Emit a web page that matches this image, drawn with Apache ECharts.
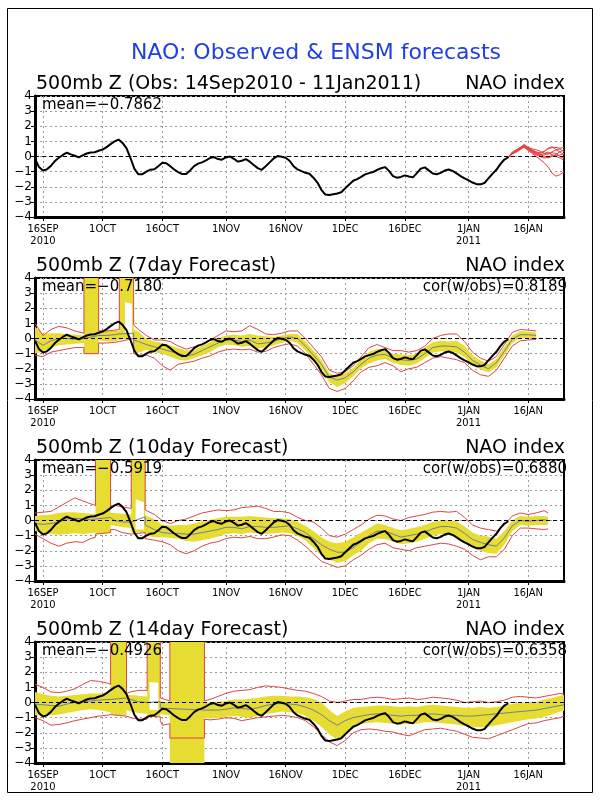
<!DOCTYPE html>
<html>
<head>
<meta charset="utf-8">
<script src="https://cdn.jsdelivr.net/npm/echarts@6/dist/echarts.min.js"></script>
<style>
html, body { margin: 0; padding: 0; background: #fff; }
#main { width: 600px; height: 800px; }
</style>
</head>
<body>
<div id="main"></div>
<script>
// x axis: day index from 14 Sep 2010 (0) to 25 Jan 2011 (133)
const tickDays = [2, 17, 32, 48, 63, 78, 93, 109, 124];
const tickLabels = ['16SEP\n2010', '1OCT', '16OCT', '1NOV', '16NOV', '1DEC', '16DEC', '1JAN\n2011', '16JAN'];

// observed NAO index, one value per day from 14 Sep
const obs = [
  -0.15, -0.7, -0.92, -0.85, -0.62, -0.3, -0.08, 0.1, 0.25, 0.14,
  0.05, -0.06, 0.08, 0.2, 0.26, 0.28, 0.38, 0.46, 0.62, 0.82,
  1.0, 1.12, 0.9, 0.55, -0.1, -0.82, -1.18, -1.17, -1.0, -0.87,
  -0.84, -0.64, -0.42, -0.45, -0.64, -0.86, -1.03, -1.16, -1.15, -0.92,
  -0.64, -0.47, -0.39, -0.26, -0.1, -0.04, -0.17, -0.21, -0.06, 0.0,
  -0.15, -0.34, -0.28, -0.17, -0.34, -0.56, -0.77, -0.88, -0.64, -0.39,
  -0.13, 0.03, -0.02, -0.08, -0.28, -0.64, -0.85, -0.97, -1.08, -1.14,
  -1.4, -1.72, -2.2, -2.52, -2.55, -2.5, -2.45, -2.36, -2.1, -1.85,
  -1.6, -1.5, -1.35, -1.18, -1.1, -1.03, -0.88, -0.78, -0.7, -0.95,
  -1.3, -1.4, -1.35, -1.25, -1.32, -1.38, -1.1, -0.8, -0.72, -0.92,
  -1.12, -1.17, -1.08, -0.93, -0.86, -0.95, -1.12, -1.3, -1.45, -1.57,
  -1.72, -1.83, -1.84, -1.75, -1.45, -1.15, -0.88, -0.5, -0.2, -0.05
];

// ensemble members from 11 Jan (day 119), daily
const memberStart = 119;
const m1 = [-0.05, 0.2, 0.4, 0.6, 0.7, 0.5, 0.35, 0.3, 0.25, 0.35, 0.5, 0.6, 0.6, 0.55, 0.6];
const m2 = [-0.05, 0.25, 0.35, 0.55, 0.75, 0.55, 0.4, 0.2, 0.1, 0.2, 0.3, 0.1, 0.05, 0.1, 0.2];
const m3 = [-0.05, 0.15, 0.3, 0.45, 0.65, 0.45, 0.2, 0.0, -0.2, -0.4, -0.7, -1.1, -1.3, -1.2, -1.0];
const m4 = [-0.05, 0.2, 0.35, 0.5, 0.7, 0.6, 0.45, 0.3, 0.15, 0.0, -0.1, 0.0, 0.15, 0.3, 0.45];
const m5 = [-0.05, 0.3, 0.45, 0.6, 0.8, 0.6, 0.5, 0.45, 0.35, 0.2, 0.15, 0.25, 0.2, 0.0, -0.1];
const m6 = [-0.05, 0.2, 0.4, 0.5, 0.65, 0.45, 0.3, 0.15, 0.05, 0.1, 0.2, 0.3, 0.45, 0.5, 0.3];
const m7 = [-0.05, 0.25, 0.3, 0.5, 0.7, 0.55, 0.35, 0.25, 0.2, 0.3, 0.55, 0.65, 0.45, 0.3, 0.1];
const m8 = [-0.05, 0.2, 0.35, 0.55, 0.6, 0.4, 0.25, 0.1, 0.0, -0.1, -0.05, 0.1, 0.0, -0.1, -0.25];

// 7day forecast (99 = missing, drawn off the top)
const days7 = [0, 2, 4, 6, 8, 10, 12.3, 12.3, 16, 16, 18, 20, 21.2, 21.2, 24.8, 24.8,
  26, 28, 30, 32, 34, 36, 38, 40, 42, 44, 46, 48, 50, 52, 54, 56, 58, 60, 62, 64, 66, 68, 70, 72, 74,
  76, 78, 80, 82, 84, 86, 88, 90, 92, 94, 96, 98, 100, 102, 104, 106, 108, 110, 112, 114, 116, 118,
  120, 122, 124, 126];
const redHi7 = [1.0, 0.2, 0.6, 0.8, 0.7, 0.5, 0.35, 99, 99, 0.5, 0.5, 0.55, 0.6, 99, 99, 0.9,
  0.6, 0.2, -0.1, -0.1, -0.2, -0.5, -0.7, -0.55, -0.4, -0.1, 0.2, 0.5, 0.45, 0.5, 0.85, 0.6, 0.3, 0.25,
  0.35, 0.5, 0.5, 0.0, -0.6, -1.2, -2.1, -2.3, -2.2, -1.8, -1.2, -0.6, -0.4, -0.6, -0.8, -0.8, -0.9,
  -0.8, -0.5, 0.0, 0.2, 0.3, 0.3, -0.2, -0.9, -1.3, -1.5, -1.2, -0.4, 0.4, 0.6, 0.55, 0.5];
const yelHi7 = [0.8, 0.3, 0.35, 0.35, 0.3, 0.25, 0.2, 99, 99, 0.5, 0.55, 0.55, 0.5, 99, 99, 0.6,
  0.45, 0.0, -0.2, -0.3, -0.45, -0.65, -0.8, -0.75, -0.5, -0.25, 0.0, 0.2, 0.25, 0.2, 0.3, 0.2, 0.15, 0.1,
  0.2, 0.3, 0.3, -0.2, -0.8, -1.4, -2.3, -2.5, -2.3, -1.95, -1.35, -0.9, -0.7, -0.75, -1.0, -1.05, -1.1,
  -1.0, -0.6, -0.25, -0.15, -0.2, -0.15, -0.5, -1.1, -1.45, -1.7, -1.35, -0.55, 0.2, 0.5, 0.45, 0.4];
const mean7 = [-0.1, -0.45, -0.15, 0.0, 0.0, -0.05, 0.0, 0.1, 0.2, 0.2, 0.2, 0.25, 0.3, 0.3, 0.35, -0.1,
  -0.2, -0.4, -0.55, -0.7, -0.85, -1.0, -1.15, -1.05, -0.8, -0.55, -0.3, -0.1, -0.1, -0.2, -0.1, -0.35,
  -0.3, -0.2, 0.0, 0.1, 0.0, -0.5, -1.1, -1.7, -2.55, -2.75, -2.6, -2.2, -1.7, -1.3, -1.1, -1.05, -1.3,
  -1.4, -1.45, -1.35, -1.0, -0.6, -0.5, -0.5, -0.55, -0.9, -1.45, -1.75, -2.0, -1.6, -0.85, -0.05, 0.25,
  0.25, 0.2];
const yelLo7 = [-1.0, -0.85, -0.6, -0.45, -0.4, -0.35, -0.3, -1.0, -1.0, -0.1, -0.2, -0.2, -0.05, -0.1, 0.1, -0.9,
  -0.95, -0.75, -0.9, -1.0, -1.2, -1.4, -1.45, -1.3, -1.1, -0.9, -0.6, -0.4, -0.45, -0.55, -0.5, -0.65,
  -0.6, -0.45, -0.3, -0.15, -0.3, -0.8, -1.4, -2.0, -2.9, -3.2, -2.95, -2.5, -1.95, -1.65, -1.45, -1.35,
  -1.6, -1.75, -1.8, -1.65, -1.3, -0.95, -0.85, -0.85, -0.95, -1.2, -1.75, -2.05, -2.25, -1.9, -1.1,
  -0.3, 0.0, 0.05, 0.0];
const redLo7 = [-1.1, -1.2, -0.9, -0.8, -0.7, -0.6, -0.6, -1.0, -1.0, -0.3, -0.3, -0.25, -0.2, -0.2, 0.0, -1.0,
  -1.1, -1.1, -1.3, -1.8, -2.1, -1.7, -1.6, -1.5, -1.3, -1.15, -0.9, -0.75, -0.7, -0.75, -0.7, -0.9,
  -0.85, -0.6, -0.45, -0.35, -0.5, -1.0, -1.7, -2.4, -3.3, -3.5, -3.3, -2.8, -2.2, -1.9, -1.8, -1.6,
  -1.8, -2.2, -2.0, -1.9, -1.6, -1.3, -1.2, -1.3, -1.4, -1.6, -2.1, -2.4, -2.5, -2.1, -1.3, -0.5,
  -0.15, -0.1, -0.05];
const holeDays7 = [22.6, 24.4];
const holeHi7 = [2.4, 2.3];
const holeLo7 = [0.4, 0.05];

// 10day forecast
const days10 = [0, 2, 4, 6, 8, 10, 12, 14, 15.2, 15.2, 19, 19, 20, 22, 24.2, 24.2, 27.7, 27.7,
  28, 30, 32, 34, 36, 38, 40, 42, 44, 46, 48, 50, 52, 54, 56, 58, 60, 62, 64, 66, 68, 70, 72, 74, 76,
  78, 80, 82, 84, 86, 88, 90, 92, 94, 96, 98, 100, 102, 104, 106, 108, 110, 112, 114, 116, 118, 120,
  122, 124, 126, 128, 129];
const redHi10 = [0.5, 0.55, 0.6, 0.9, 1.2, 1.5, 1.3, 1.1, 1.0, 99, 99, 0.9, 1.0, 0.9, 0.8, 99, 99, 0.7,
  0.6, 0.4, 0.0, -0.2, 0.0, 0.1, 0.3, 0.5, 0.6, 0.7, 0.65, 0.7, 0.85, 0.9, 0.95, 0.8, 0.6, 0.6, 0.5, 0.2,
  0.0, -0.1, -0.5, -1.0, -1.1, -0.9, -0.6, -0.3, 0.1, 0.35, 0.3, 0.1, 0.0, 0.2, 0.3, 0.4, 0.55, 0.6,
  0.55, 0.6, 0.2, -0.3, -0.5, -0.6, -0.7, -0.3, 0.3, 0.5, 0.4, 0.5, 0.65, 0.5];
const yelHi10 = [0.3, 0.35, 0.4, 0.5, 0.55, 0.55, 0.5, 0.45, 0.45, 99, 99, 0.5, 0.5, 0.45, 0.4, 99, 99, 0.4,
  0.3, 0.1, -0.3, -0.35, -0.3, -0.3, -0.2, -0.05, 0.05, 0.15, 0.25, 0.25, 0.25, 0.3, 0.25, 0.2, 0.15,
  0.15, 0.1, -0.1, -0.35, -0.7, -1.1, -1.4, -1.5, -1.4, -1.1, -0.8, -0.5, -0.2, -0.3, -0.5, -0.65,
  -0.55, -0.45, -0.3, -0.1, 0.0, 0.0, -0.05, -0.4, -0.8, -1.0, -1.05, -1.2, -0.7, 0.0, 0.3, 0.25, 0.3,
  0.3, 0.25];
const mean10 = [-0.2, -0.25, -0.2, -0.1, 0.1, 0.15, 0.1, 0.05, 0.1, 0.15, 0.2, 0.15, 0.0, -0.1, -0.1, 0.0, 0.25, -0.3,
  -0.4, -0.6, -0.8, -0.85, -0.85, -0.9, -0.9, -0.8, -0.7, -0.6, -0.45, -0.45, -0.55, -0.4, -0.4, -0.45,
  -0.45, -0.4, -0.35, -0.55, -0.8, -1.2, -1.6, -1.9, -2.1, -2.1, -1.8, -1.4, -1.0, -0.7, -0.7, -0.9,
  -1.1, -1.0, -0.9, -0.75, -0.55, -0.4, -0.4, -0.5, -0.85, -1.25, -1.45, -1.6, -1.7, -1.15, -0.35, 0.0,
  -0.05, 0.0, 0.05, 0.0];
const yelLo10 = [-0.7, -0.85, -0.9, -0.95, -0.9, -0.85, -0.9, -0.85, -0.8, -0.9, -0.8, -0.3, -0.35, -0.45, -0.5, -0.8, -0.8, -0.9,
  -1.0, -1.1, -1.1, -1.15, -1.2, -1.35, -1.4, -1.3, -1.2, -1.05, -0.9, -0.85, -0.9, -0.8, -0.85, -0.9,
  -0.85, -0.8, -0.85, -1.0, -1.3, -1.8, -2.3, -2.6, -2.8, -2.7, -2.3, -2.0, -1.5, -1.2, -1.2, -1.4,
  -1.55, -1.5, -1.4, -1.2, -1.0, -0.9, -0.95, -1.1, -1.4, -1.8, -2.0, -2.15, -2.2, -1.6, -0.7, -0.3,
  -0.35, -0.3, -0.3, -0.3];
const redLo10 = [-0.9, -1.2, -1.5, -1.7, -1.5, -1.4, -1.45, -1.2, -1.1, -0.9, -0.8, -0.6, -0.6, -0.8, -0.9, -0.8, -0.8, -1.2,
  -1.25, -1.3, -1.4, -1.6, -2.0, -2.2, -2.0, -1.7, -1.5, -1.4, -1.2, -1.1, -1.15, -1.05, -1.2, -1.2,
  -1.1, -0.95, -1.0, -1.3, -1.7, -2.2, -2.7, -2.9, -3.1, -3.0, -2.6, -2.3, -1.9, -1.6, -1.5, -1.8,
  -1.9, -2.0, -1.8, -1.7, -1.6, -1.5, -1.55, -1.7, -1.9, -2.3, -2.6, -2.4, -2.4, -1.9, -1.0, -0.5,
  -0.5, -0.55, -0.6, -0.55];
const holeDays10 = [25.3, 27.4];
const holeHi10 = [1.4, 1.2];
const holeLo10 = [-0.6, -0.6];

// 14day forecast (-99 = missing, drawn off the bottom)
const days14 = [0, 2, 4, 6, 8, 10, 12, 14, 16, 18, 19, 19, 23, 23, 24, 26, 28.2, 28.2, 31.5, 31.5, 32,
  33.9, 33.9, 42.6, 42.6, 44, 46, 48, 50, 52, 54, 56, 58, 60, 62, 64, 66, 68, 70, 72, 74, 76, 78, 80,
  82, 84, 86, 88, 90, 92, 94, 96, 98, 100, 102, 104, 106, 108, 110, 112, 114, 116, 118, 120, 122, 124,
  126, 128, 130, 132, 133];
const redHi14 = [1.2, 1.0, 0.7, 0.65, 0.75, 0.9, 1.2, 1.45, 1.4, 1.3, 1.2, 99, 99, 0.6, 0.7, 0.8, 0.8, 99, 99,
  0.3, 0.2, 0.1, 99, 99, 0.1,
  0.2, 0.4, 0.6, 0.75, 0.8, 0.85, 1.0, 1.1, 1.05, 1.0, 0.9, 0.8, 0.75, 0.6, 0.4, 0.1, 0.0, 0.1, 0.2, 0.2,
  0.3, 0.35, 0.3, 0.2, 0.25, 0.3, 0.2, 0.25, 0.35, 0.3, 0.25, 0.15, 0.0, 0.05, 0.1, 0.0, 0.05, 0.15,
  0.35, 0.4, 0.35, 0.3, 0.4, 0.5, 0.6, 0.55];
const yelHi14 = [0.7, 0.55, 0.45, 0.4, 0.45, 0.5, 0.55, 0.6, 0.6, 0.65, 0.65, 99, 99, 0.5, 0.5, 0.45, 0.4, 99, 99,
  0.1, 0.05, 0.0, 99, 99, 0.0,
  0.0, 0.05, 0.1, 0.2, 0.2, 0.25, 0.3, 0.4, 0.45, 0.45, 0.4, 0.4, 0.35, 0.25, 0.0, -0.5, -0.9, -0.6,
  -0.35, -0.3, -0.25, -0.2, -0.2, -0.25, -0.3, -0.25, -0.3, -0.2, -0.15, -0.2, -0.25, -0.3, -0.35,
  -0.35, -0.3, -0.35, -0.3, -0.2, -0.1, 0.0, 0.0, 0.05, 0.2, 0.3, 0.45, 0.5];
const mean14 = [-0.1, -0.15, -0.2, -0.25, -0.1, 0.0, 0.05, 0.1, 0.15, 0.2, 0.2, 0.25, 0.3, 0.35, 0.2, 0.05, 0.0, 0.0, 0.05,
  -0.35, -0.4, -0.4, -0.45, -0.5, -0.5,
  -0.5, -0.5, -0.45, -0.35, -0.4, -0.45, -0.35, -0.2, -0.1, -0.05, -0.1, -0.15, -0.3, -0.5, -0.8, -1.2,
  -1.5, -1.2, -1.0, -0.9, -0.8, -0.75, -0.8, -0.85, -0.9, -0.85, -0.85, -0.8, -0.75, -0.8, -0.85, -0.85,
  -0.9, -0.9, -0.85, -0.8, -0.75, -0.7, -0.65, -0.6, -0.55, -0.5, -0.4, -0.3, -0.2, -0.15];
const yelLo14 = [-0.85, -0.9, -0.85, -0.8, -0.7, -0.6, -0.5, -0.45, -0.5, -0.6, -0.65, -0.8, -0.85, -0.5, -0.6, -0.7, -0.75, -0.9, -0.9,
  -0.75, -0.8, -0.85, -99, -99, -1.0,
  -1.05, -1.0, -0.95, -0.9, -0.95, -1.0, -0.9, -0.75, -0.7, -0.6, -0.65, -0.7, -0.9, -1.2, -1.6, -2.1,
  -2.5, -2.1, -1.6, -1.4, -1.35, -1.3, -1.35, -1.4, -1.45, -1.4, -1.4, -1.3, -1.3, -1.35, -1.4, -1.45,
  -1.55, -1.6, -1.65, -1.6, -1.5, -1.4, -1.3, -1.2, -1.1, -1.05, -0.95, -0.8, -0.6, -0.55];
const redLo14 = [-1.0, -1.2, -1.5, -1.45, -1.35, -1.2, -1.1, -1.0, -0.9, -0.85, -0.8, -0.85, -0.9, -0.9, -1.0, -1.1, -1.1, -0.9, -0.95,
  -1.2, -1.5, -1.4, -2.35, -2.35, -1.1,
  -1.15, -1.1, -1.0, -1.05, -1.2, -1.1, -1.0, -0.95, -0.9, -0.85, -0.9, -1.0, -1.2, -1.6, -2.1, -2.6,
  -2.85, -2.5, -2.0, -1.8, -1.75, -1.8, -1.9, -1.95, -2.1, -2.2, -2.0, -1.8, -1.75, -1.7, -1.8, -1.9,
  -2.1, -2.3, -2.35, -2.4, -2.2, -2.0, -1.8, -1.6, -1.4, -1.35, -1.2, -1.1, -1.0, -0.9];
const holeDays14 = [28.8, 31.0];
const holeHi14 = [1.35, 1.3];
const holeLo14 = [-0.5, -0.5];

const panelTitles = ['500mb Z (Obs: 14Sep2010 - 11Jan2011)', '500mb Z (7day Forecast)',
  '500mb Z (10day Forecast)', '500mb Z (14day Forecast)'];
const meanTexts = ['mean=\u22120.7862', 'mean=\u22120.7180', 'mean=\u22120.5919', 'mean=\u22120.4926'];
const corTexts = ['', 'cor(w/obs)=0.8189', 'cor(w/obs)=0.6880', 'cor(w/obs)=0.6358'];

// ---- layout ----
const tops = [96, 278, 460, 642];
const H = 121;
const FONT = '"DejaVu Sans", sans-serif';
const YELLOW = '#e6dc32';
const RED = '#dc4646';
const GREYBLUE = '#6f7f96';

const chart = echarts.init(document.getElementById('main'));

const dayCats = Array.from({ length: 134 }, (_, d) => {
  const k = tickDays.indexOf(d);
  return k >= 0 ? tickLabels[k] : '';
});
const isTick = (idx) => tickDays.includes(idx);

const zip = (xs, ys) => xs.map((x, k) => [x, ys[k]]);

// filled band between lo and hi, one polygon clipped to the grid
function band(i, xs, lo, hi, color) {
  return {
    type: 'custom', xAxisIndex: 2 * i, yAxisIndex: i, silent: true, z: 1,
    data: [[xs[0], lo[0]]],
    renderItem: (params, api) => {
      const top = xs.map((x, k) => api.coord([x, hi[k]]));
      const bot = xs.map((x, k) => api.coord([x, lo[k]])).reverse();
      const cs = params.coordSys;
      return {
        type: 'polygon',
        shape: { points: top.concat(bot) },
        style: { fill: color, stroke: null },
        clipPath: { type: 'rect', shape: { x: cs.x, y: cs.y, width: cs.width, height: cs.height } }
      };
    }
  };
}

function line(i, data, color, width, z) {
  return {
    type: 'line', xAxisIndex: 2 * i, yAxisIndex: i, data: data, symbol: 'none', silent: true,
    lineStyle: { color: color, width: width }, z: z || 2
  };
}

function obsLine(i) {
  const s = line(i, obs.map((v, d) => [d, v]), '#000', 2, 5);
  s.markLine = {
    silent: true, symbol: 'none', label: { show: false },
    lineStyle: { color: '#000', type: [4, 3], width: 1 },
    data: [{ yAxis: 0 }]
  };
  return s;
}

const grids = [], xAxes = [], yAxes = [];
tops.forEach((t, i) => {
  grids.push({ left: 35, top: t, width: 529, height: H, show: true, borderColor: '#000', borderWidth: 2 });
  xAxes.push({ type: 'value', gridIndex: i, min: 0, max: 133, show: false, position: 'bottom' });
  xAxes.push({
    type: 'category', gridIndex: i, data: dayCats, boundaryGap: false, position: 'bottom',
    axisLine: { lineStyle: { color: '#000', width: 3 } },
    axisTick: { interval: isTick, length: 4, lineStyle: { color: '#000' } },
    axisLabel: {
      interval: isTick, color: '#000', fontSize: 11, lineHeight: 12, margin: 6,
      fontFamily: '"Liberation Sans Narrow", "DejaVu Sans Condensed", "Liberation Sans", sans-serif'
    },
    splitLine: { show: true, interval: isTick, lineStyle: { color: '#9a9a9a', type: [2, 3] } }
  });
  yAxes.push({
    type: 'value', gridIndex: i, min: -4, max: 4, interval: 1,
    axisLine: { show: true, lineStyle: { color: '#000', width: 3 } },
    axisTick: { show: true, length: 4, lineStyle: { color: '#000' } },
    axisLabel: {
      color: '#000', fontSize: 12, margin: 3, fontFamily: FONT,
      formatter: (v) => String(v).replace('-', '\u2212')
    },
    splitLine: { lineStyle: { color: '#9a9a9a', type: [2, 3] } }
  });
});

const series = [];
// panel 1: observed + ensemble members
[m1, m2, m3, m4, m5, m6, m7, m8].forEach((m) => {
  series.push(line(0, m.map((v, k) => [memberStart + k, v]), '#e84040', 1, 3));
});
series.push(obsLine(0));

// panels 2-4: spread band, hole, envelope, mean, observed
const fc = [
  [days7, redHi7, yelHi7, mean7, yelLo7, redLo7, holeDays7, holeHi7, holeLo7],
  [days10, redHi10, yelHi10, mean10, yelLo10, redLo10, holeDays10, holeHi10, holeLo10],
  [days14, redHi14, yelHi14, mean14, yelLo14, redLo14, holeDays14, holeHi14, holeLo14]
];
fc.forEach((f, n) => {
  const i = n + 1;
  const [xs, rHi, yHi, mn, yLo, rLo, hx, hHi, hLo] = f;
  series.push(band(i, xs, yLo, yHi, YELLOW));
  const hole = band(i, hx, hLo, hHi, '#fff');
  hole.z = 1.5;
  series.push(hole);
  series.push(line(i, zip(xs, rHi), RED, 1, 3));
  series.push(line(i, zip(xs, rLo), RED, 1, 3));
  series.push(line(i, zip(xs, mn), GREYBLUE, 1, 3));
  series.push(obsLine(i));
});

// texts
const graphic = [
  { type: 'rect', shape: { x: 7.5, y: 8.5, width: 585, height: 784 }, style: { fill: 'none', stroke: '#000', lineWidth: 1 } },
  { type: 'text', x: 316, y: 53, style: { text: 'NAO: Observed & ENSM forecasts', font: '22px ' + FONT, fill: '#1f3fe6', align: 'center', verticalAlign: 'middle' } }
];
tops.forEach((t, i) => {
  graphic.push({ type: 'text', x: 36, y: t - 12, style: { text: panelTitles[i], font: '19px ' + FONT, fill: '#000', align: 'left', verticalAlign: 'middle' } });
  graphic.push({ type: 'text', x: 565, y: t - 12, style: { text: 'NAO index', font: '19px ' + FONT, fill: '#000', align: 'right', verticalAlign: 'middle' } });
  graphic.push({ type: 'text', x: 42, y: t + 9, style: { text: meanTexts[i], font: '15px ' + FONT, fill: '#000', align: 'left', verticalAlign: 'middle' }, z: 10 });
  if (corTexts[i]) {
    graphic.push({ type: 'text', x: 567, y: t + 9, style: { text: corTexts[i], font: '15px ' + FONT, fill: '#000', align: 'right', verticalAlign: 'middle' }, z: 10 });
  }
});

chart.setOption({
  animation: false,
  backgroundColor: '#fff',
  grid: grids,
  xAxis: xAxes,
  yAxis: yAxes,
  series: series,
  graphic: graphic
});
</script>
</body>
</html>
